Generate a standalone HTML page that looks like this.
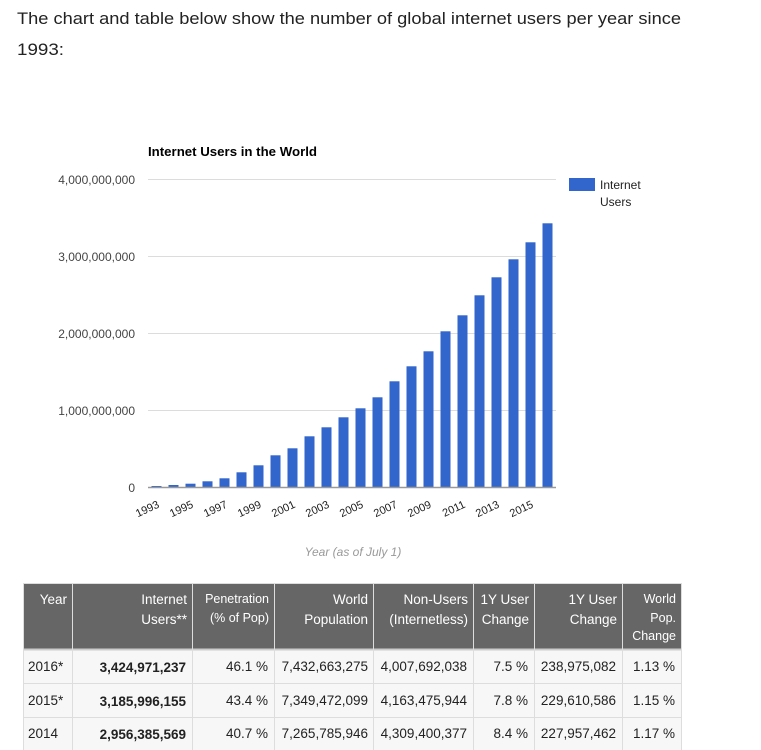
<!DOCTYPE html>
<html><head><meta charset="utf-8"><style>
body{margin:0;background:#fff;width:761px;height:750px;overflow:hidden}
svg{display:block}
</style></head><body>
<svg width="761" height="750" xmlns="http://www.w3.org/2000/svg" font-family="Liberation Sans, Arial, sans-serif">
<text x="17" y="24" font-size="17" fill="#222" textLength="664" lengthAdjust="spacingAndGlyphs">The chart and table below show the number of global internet users per year since</text>
<text x="17" y="55" font-size="17" fill="#222" textLength="47" lengthAdjust="spacingAndGlyphs">1993:</text>
<text x="148" y="156" font-size="12.5" font-weight="bold" fill="#000" textLength="169" lengthAdjust="spacingAndGlyphs">Internet Users in the World</text>
<g stroke="#dcdcdc" stroke-width="1">
<line x1="148" x2="556" y1="179.5" y2="179.5"/>
<line x1="148" x2="556" y1="256.5" y2="256.5"/>
<line x1="148" x2="556" y1="333.5" y2="333.5"/>
<line x1="148" x2="556" y1="410.5" y2="410.5"/>
</g>
<g font-size="12" fill="#444" text-anchor="end">
<text x="135" y="184">4,000,000,000</text>
<text x="135" y="261">3,000,000,000</text>
<text x="135" y="338">2,000,000,000</text>
<text x="135" y="415">1,000,000,000</text>
<text x="135" y="492">0</text>
</g>
<g fill="#3366cc">
<rect x="151.5" y="486" width="10" height="1"/>
<rect x="168.5" y="485" width="10" height="2"/>
<rect x="185.5" y="483.7" width="10" height="3.3"/>
<rect x="202.5" y="481.3" width="10" height="5.7"/>
<rect x="219.5" y="478.3" width="10" height="8.7"/>
<rect x="236.5" y="472.3" width="10" height="14.7"/>
<rect x="253.5" y="465.3" width="10" height="21.7"/>
<rect x="270.5" y="455.3" width="10" height="31.7"/>
<rect x="287.5" y="448.3" width="10" height="38.7"/>
<rect x="304.5" y="436.3" width="10" height="50.7"/>
<rect x="321.5" y="427.3" width="10" height="59.7"/>
<rect x="338.5" y="417.3" width="10" height="69.7"/>
<rect x="355.5" y="408.3" width="10" height="78.7"/>
<rect x="372.5" y="397.3" width="10" height="89.7"/>
<rect x="389.5" y="381.3" width="10" height="105.7"/>
<rect x="406.5" y="366.3" width="10" height="120.7"/>
<rect x="423.5" y="351.3" width="10" height="135.7"/>
<rect x="440.5" y="331.3" width="10" height="155.7"/>
<rect x="457.5" y="315.3" width="10" height="171.7"/>
<rect x="474.5" y="295.3" width="10" height="191.7"/>
<rect x="491.5" y="277.3" width="10" height="209.7"/>
<rect x="508.5" y="259.3" width="10" height="227.7"/>
<rect x="525.5" y="242.3" width="10" height="244.7"/>
<rect x="542.5" y="223.3" width="10" height="263.7"/>
</g>
<line x1="148" x2="556" y1="487.5" y2="487.5" stroke="#999" stroke-width="1.5"/>
<g font-size="11" fill="#222" text-anchor="end">
<text transform="translate(160,507) rotate(-25)">1993</text>
<text transform="translate(194,507) rotate(-25)">1995</text>
<text transform="translate(228,507) rotate(-25)">1997</text>
<text transform="translate(262,507) rotate(-25)">1999</text>
<text transform="translate(296,507) rotate(-25)">2001</text>
<text transform="translate(330,507) rotate(-25)">2003</text>
<text transform="translate(364,507) rotate(-25)">2005</text>
<text transform="translate(398,507) rotate(-25)">2007</text>
<text transform="translate(432,507) rotate(-25)">2009</text>
<text transform="translate(466,507) rotate(-25)">2011</text>
<text transform="translate(500,507) rotate(-25)">2013</text>
<text transform="translate(534,507) rotate(-25)">2015</text>
</g>
<text x="353" y="556" font-size="12" font-style="italic" fill="#999" text-anchor="middle">Year (as of July 1)</text>
<rect x="569" y="178" width="26" height="13" fill="#3366cc"/>
<text x="600" y="189" font-size="12" fill="#222">Internet</text>
<text x="600" y="206" font-size="12" fill="#222">Users</text>

<rect x="23" y="649" width="659" height="101" fill="#f7f7f7"/>
<rect x="23" y="583" width="659" height="66" fill="#666"/>
<g stroke="#ddd" stroke-width="1" fill="none">
<line x1="23" x2="682" y1="583.5" y2="583.5"/>
<line x1="23" x2="682" y1="649.5" y2="649.5" stroke="#ccc" stroke-width="2"/>
<line x1="23" x2="682" y1="683.5" y2="683.5"/>
<line x1="23" x2="682" y1="717.5" y2="717.5"/>
<line x1="23.5" x2="23.5" y1="583" y2="750"/>
<line x1="681.5" x2="681.5" y1="583" y2="750"/>
<line x1="72.5" x2="72.5" y1="583" y2="750"/><line x1="192.5" x2="192.5" y1="583" y2="750"/>
<line x1="274.5" x2="274.5" y1="583" y2="750"/><line x1="373.5" x2="373.5" y1="583" y2="750"/>
<line x1="473.5" x2="473.5" y1="583" y2="750"/><line x1="534.5" x2="534.5" y1="583" y2="750"/>
<line x1="622.5" x2="622.5" y1="583" y2="750"/>
</g>
<g font-size="13.5" fill="#fff" text-anchor="end">
<text x="67" y="604">Year</text>
<text x="187" y="604">Internet</text><text x="187" y="624">Users**</text>
<text x="269" y="603" font-size="12.5">Penetration</text><text x="269" y="622" font-size="12.5">(% of Pop)</text>
<text x="368" y="604">World</text><text x="368" y="624">Population</text>
<text x="468" y="604">Non-Users</text><text x="468" y="624">(Internetless)</text>
<text x="529" y="604">1Y User</text><text x="529" y="624">Change</text>
<text x="617" y="604">1Y User</text><text x="617" y="624">Change</text>
<text x="676" y="603" font-size="12.5">World</text><text x="676" y="622" font-size="12.5">Pop.</text><text x="676" y="640" font-size="12.5">Change</text>
</g>
<g font-size="13.5" fill="#222">
<text x="28" y="671">2016*</text><text x="28" y="705">2015*</text><text x="28" y="738">2014</text>
</g>
<g font-size="13.5" fill="#222" text-anchor="end">
<text x="186" y="672" font-weight="bold">3,424,971,237</text>
<text x="186" y="706" font-weight="bold">3,185,996,155</text>
<text x="186" y="739" font-weight="bold">2,956,385,569</text>
<text x="268" y="671">46.1 %</text><text x="268" y="705">43.4 %</text><text x="268" y="738">40.7 %</text>
<text x="368" y="671">7,432,663,275</text><text x="368" y="705">7,349,472,099</text><text x="368" y="738">7,265,785,946</text>
<text x="467" y="671">4,007,692,038</text><text x="467" y="705">4,163,475,944</text><text x="467" y="738">4,309,400,377</text>
<text x="528" y="671">7.5 %</text><text x="528" y="705">7.8 %</text><text x="528" y="738">8.4 %</text>
<text x="616" y="671">238,975,082</text><text x="616" y="705">229,610,586</text><text x="616" y="738">227,957,462</text>
<text x="675" y="671">1.13 %</text><text x="675" y="705">1.15 %</text><text x="675" y="738">1.17 %</text>
</g>
</svg>
</body></html>
